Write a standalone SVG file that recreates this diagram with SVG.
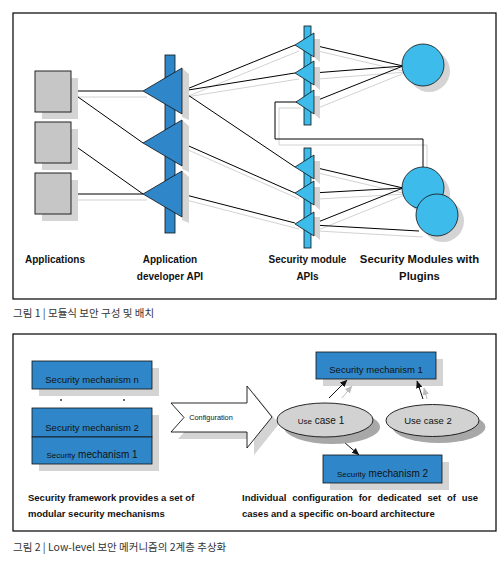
<svg xmlns="http://www.w3.org/2000/svg" width="504" height="564" viewBox="0 0 504 564">
<defs>
<style>
.frame{fill:#fff;stroke:#000;stroke-width:1.2}
.sh{fill:#d4d4d4;stroke:none}
.app{fill:#c6c6c6;stroke:#222;stroke-width:1}
.dk{fill:#2f87c9;stroke:#111;stroke-width:0.8}
.lt{fill:#3dbbea;stroke:#111;stroke-width:0.8}
.ln{fill:none;stroke:#000;stroke-width:1}
.lns{fill:none;stroke:#d2d2d2;stroke-width:1}
.lbl{font-family:"Liberation Sans",Arial,sans-serif;font-weight:bold;fill:#111;text-anchor:middle}
.t{font-family:"Liberation Sans",Arial,sans-serif;fill:#111}
.cap{font-family:"Noto Sans CJK KR","Liberation Sans",sans-serif;fill:#333;font-size:10.5px}
.uc{fill:#d2d2d2;stroke:#111;stroke-width:0.9}
</style>
<marker id="ah" markerWidth="8" markerHeight="8" refX="7" refY="4" orient="auto" markerUnits="userSpaceOnUse"><path d="M0,0.8 L7.5,4 L0,7.2 z" fill="#111"/></marker>
<marker id="ahg" markerWidth="8" markerHeight="8" refX="7" refY="4" orient="auto" markerUnits="userSpaceOnUse"><path d="M0,0.8 L7.5,4 L0,7.2 z" fill="#bbb"/></marker>
</defs>
<rect width="504" height="564" fill="#fff"/>

<!-- Figure 1 -->
<rect class="frame" x="13" y="13" width="483" height="286"/>

<g id="connector-shadows" transform="translate(4,6)">
<polyline class="lns" points="71,91 143,91"/>
<polyline class="lns" points="71,194 143,194"/>
<polyline class="lns" points="182,91 295,45"/>
<polyline class="lns" points="182,91 295,73"/>
<polyline class="lns" points="182,143 295,193"/>
<polyline class="lns" points="182,194 295,223"/>
<polyline class="lns" points="403,66 314,45"/>
<polyline class="lns" points="403,66 314,73"/>
<polyline class="lns" points="403,66 314,102"/>
<polyline class="lns" points="403,188 314,167"/>
<polyline class="lns" points="403,188 314,193"/>
<polyline class="lns" points="403,188 314,224"/>
<polyline class="lns" points="419,231 314,225"/>
<polyline class="lns" points="297,102 275,102 275,139 423,139 423,167"/>
</g>

<g id="connectors">
<polyline class="ln" points="71,91 143,91"/>
<polyline class="ln" points="71,92 143,143"/>
<polyline class="ln" points="71,143 143,194"/>
<polyline class="ln" points="71,194 143,194"/>
<polyline class="ln" points="182,91 295,45"/>
<polyline class="ln" points="182,91 295,73"/>
<polyline class="ln" points="182,91 295,167"/>
<polyline class="ln" points="182,143 295,193"/>
<polyline class="ln" points="182,194 295,223"/>
<polyline class="ln" points="403,66 313,45"/>
<polyline class="ln" points="403,66 313,73"/>
<polyline class="ln" points="403,66 313,102"/>
<polyline class="ln" points="403,188 313,167"/>
<polyline class="ln" points="403,188 313,193"/>
<polyline class="ln" points="403,188 313,224"/>
<polyline class="ln" points="419,231 313,225"/>
<polyline class="ln" points="297,102 275,102 275,139 423,139 423,167"/>
</g>

<g id="app1"><rect class="sh" x="42" y="78" width="36" height="41"/><rect class="app" x="35" y="71" width="36" height="41"/></g>
<g id="app2"><rect class="sh" x="42" y="129" width="36" height="41"/><rect class="app" x="35" y="122" width="36" height="41"/></g>
<g id="app3"><rect class="sh" x="42" y="180" width="36" height="41"/><rect class="app" x="35" y="173" width="36" height="41"/></g>

<g id="app-dev-api">
<rect class="dk" x="165" y="55" width="10" height="178"/>
<polygon class="sh" points="189,74 189,120 182,117 182,68"/>
<polygon class="sh" points="189,126 189,172 182,169 182,120"/>
<polygon class="sh" points="189,177 189,223 182,220 182,171"/>
<polygon class="dk" points="143,91 182,68 182,114"/>
<polygon class="dk" points="143,143 182,120 182,166"/>
<polygon class="dk" points="143,194 182,171 182,217"/>
</g>

<g id="sec-module-apis-upper">
<rect class="lt" x="304" y="26" width="7" height="99"/>
<polygon class="sh" points="314,39 320,39 320,62 314,57"/>
<polygon class="sh" points="314,67 320,67 320,90 314,85"/>
<polygon class="sh" points="314,96 320,96 320,119 314,114"/>
<polygon class="lt" points="295,45 314,33 314,57"/>
<polygon class="lt" points="295,73 314,61 314,85"/>
<polygon class="lt" points="296,102 314,90 314,114"/>
</g>
<g id="sec-module-apis-lower">
<rect class="lt" x="304" y="148" width="7" height="100"/>
<polygon class="sh" points="314,161 320,161 320,184 314,179"/>
<polygon class="sh" points="314,187 320,187 320,210 314,205"/>
<polygon class="sh" points="314,217 320,217 320,240 314,235"/>
<polygon class="lt" points="295,167 314,155 314,179"/>
<polygon class="lt" points="295,193 314,181 314,205"/>
<polygon class="lt" points="295,224 314,212 314,236"/>
</g>

<g id="module-upper">
<circle class="sh" cx="429" cy="71" r="21"/>
<circle class="lt" cx="423" cy="65" r="21"/>
</g>
<g id="module-lower">
<circle class="sh" cx="429" cy="194" r="21"/>
<circle class="lt" cx="423" cy="188" r="21"/>
<circle class="sh" cx="443" cy="221" r="21"/>
<circle class="lt" cx="437" cy="215" r="21"/>
</g>

<g id="labels1">
<text class="lbl" x="55" y="263" font-size="10">Applications</text>
<text class="lbl" x="170" y="263" font-size="10">Application</text>
<text class="lbl" x="170" y="280" font-size="10">developer API</text>
<text class="lbl" x="307.5" y="263" font-size="10">Security module</text>
<text class="lbl" x="307.5" y="280" font-size="10">APIs</text>
<text class="lbl" x="419.5" y="263" font-size="11.3">Security Modules with</text>
<text class="lbl" x="419.5" y="280" font-size="11.3">Plugins</text>
</g>
<text class="cap" x="13" y="317">그림 1 | 모듈식 보안 구성 및 배치</text>

<!-- Figure 2 -->
<rect class="frame" x="13" y="334" width="483" height="197"/>

<g id="mech-stack">
<rect class="sh" x="39" y="368" width="120" height="28"/>
<rect class="dk" x="32" y="361" width="120" height="28"/>
<text class="t" x="92" y="382.5" font-size="9.5" text-anchor="middle">Security mechanism n</text>
<circle cx="61" cy="400" r="0.9" fill="#222"/>
<circle cx="124" cy="400" r="0.9" fill="#222"/>
<rect class="sh" x="39" y="415" width="120" height="56"/>
<rect class="dk" x="32" y="408" width="120" height="29"/>
<text class="t" x="92" y="430.5" font-size="9.5" text-anchor="middle">Security mechanism 2</text>
<rect class="dk" x="32" y="437" width="120" height="27"/>
<text class="t" x="92" y="458" text-anchor="middle"><tspan font-size="8">Security</tspan><tspan font-size="10"> mechanism 1</tspan></text>
</g>

<g id="configuration">
<polygon class="sh" points="178,410 254,410 254,393 279,424 254,455 254,439 178,439 191,424.5"/>
<polygon fill="#fff" stroke="#111" stroke-width="0.9" points="171,403 247,403 247,386 272,417 247,448 247,432 171,432 184,417.5"/>
<text class="t" x="211" y="420" font-size="7.3" text-anchor="middle">Configuration</text>
</g>

<g id="sm1">
<rect class="sh" x="323" y="359" width="120" height="27"/>
<rect class="dk" x="316" y="352" width="120" height="27"/>
<text class="t" x="376" y="373" font-size="9.5" text-anchor="middle">Security mechanism 1</text>
</g>

<g id="connectors2">
<line x1="342" y1="398" x2="352" y2="386" stroke="#bbb" stroke-width="1" marker-end="url(#ahg)"/>
<line x1="427" y1="399" x2="424" y2="388" stroke="#bbb" stroke-width="1" marker-end="url(#ahg)"/>
<line x1="329" y1="398" x2="347" y2="380" stroke="#111" stroke-width="1" marker-end="url(#ah)"/>
<line x1="423" y1="399" x2="417" y2="381" stroke="#111" stroke-width="1" marker-end="url(#ah)"/>
<line x1="337" y1="436" x2="359" y2="455" stroke="#111" stroke-width="1" marker-end="url(#ah)"/>
</g>

<g id="usecase1">
<ellipse cx="332" cy="427" rx="48" ry="17" fill="#a8a8a8"/>
<ellipse class="uc" cx="325" cy="420" rx="48" ry="17"/>
<text class="t" x="321" y="424" text-anchor="middle"><tspan font-size="8">Use</tspan><tspan font-size="10"> case 1</tspan></text>
</g>
<g id="usecase2">
<ellipse cx="439" cy="427" rx="46.5" ry="16" fill="#a8a8a8"/>
<ellipse class="uc" cx="432.5" cy="420.5" rx="46.5" ry="16"/>
<text class="t" x="428" y="424" font-size="9.5" text-anchor="middle">Use case 2</text>
</g>

<g id="sm2">
<rect class="sh" x="330" y="462" width="119" height="28"/>
<rect class="dk" x="323" y="455" width="119" height="28"/>
<text class="t" x="382.5" y="477" text-anchor="middle"><tspan font-size="8">Security</tspan><tspan font-size="10"> mechanism 2</tspan></text>
</g>

<g id="labels2">
<text class="t" x="28" y="501" font-size="9.5" font-weight="bold">Security framework provides a set of</text>
<text class="t" x="28" y="517" font-size="9.5" font-weight="bold">modular security mechanisms</text>
<text class="t" x="242" y="501" font-size="9.5" font-weight="bold" word-spacing="3.2">Individual configuration for dedicated set of use</text>
<text class="t" x="242" y="517" font-size="9.5" font-weight="bold">cases and a specific on-board architecture</text>
</g>
<text class="cap" x="13" y="551">그림 2 | Low-level 보안 메커니즘의 2계층 추상화</text>
</svg>
